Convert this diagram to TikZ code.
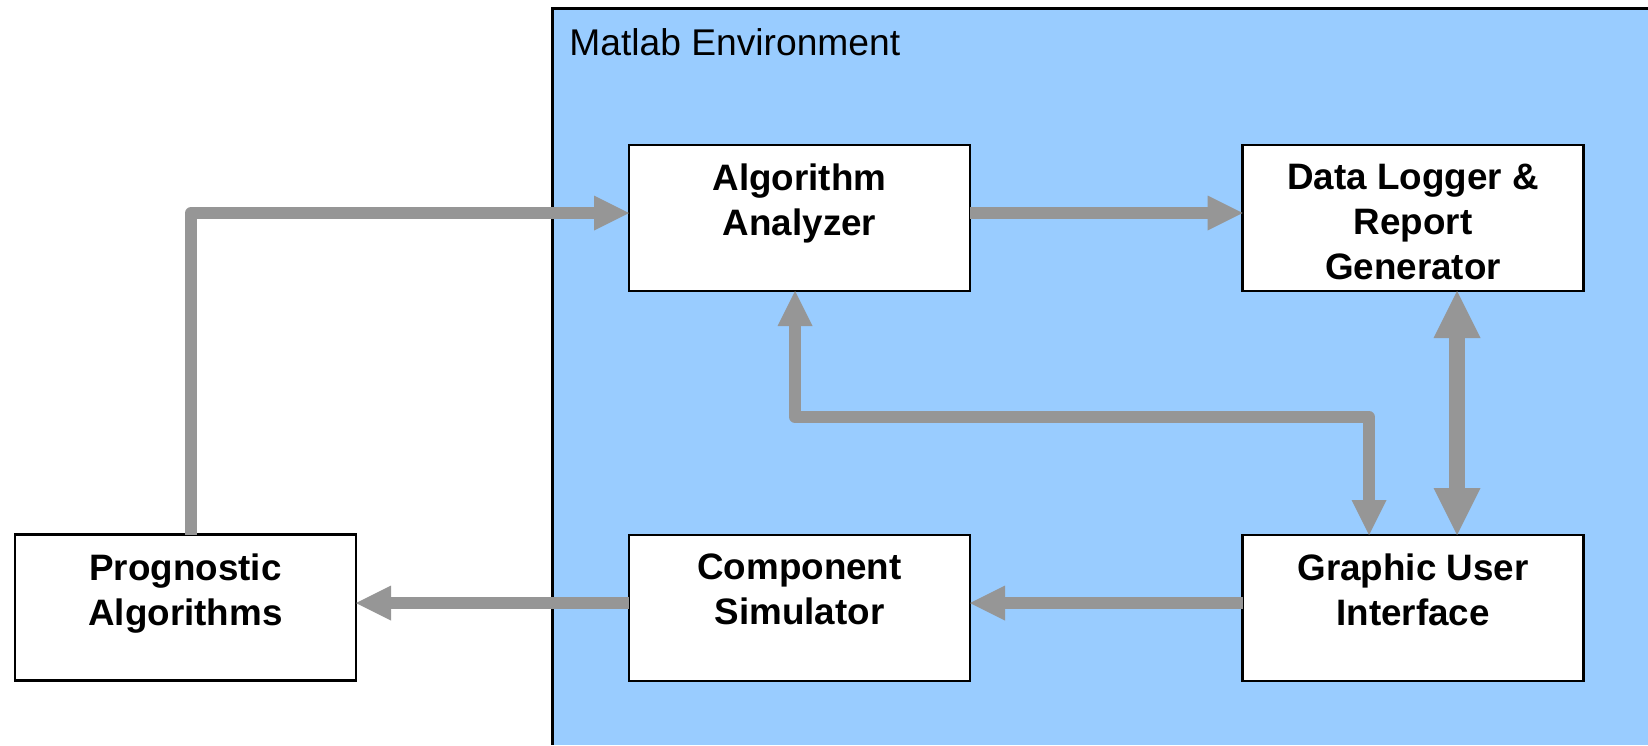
\documentclass[tikz,border=0pt]{standalone}
\usepackage{fontspec}
\setmainfont{Liberation Sans}
\usetikzlibrary{arrows.meta}
\definecolor{envblue}{RGB}{153,204,255}
\definecolor{flowgray}{RGB}{150,150,150}
\tikzset{
  flowtip/.tip={Triangle[length=17.5pt,width=17.5pt,line width=0pt]},
  bigtip/.tip={Triangle[length=23.5pt,width=23.5pt,line width=0pt]},
}
\begin{document}
\begin{tikzpicture}[x=0.5pt,y=-0.5pt,
  block/.style={draw=black, line width=1.3pt, fill=white,
    minimum width=170.5pt, minimum height=73pt, inner sep=0pt, outer sep=0pt},
  blocktext/.style={anchor=north, align=center, inner sep=0pt,
    font=\bfseries\fontsize{18.4pt}{22.6pt}\selectfont},
  flow/.style={draw=flowgray, line width=6pt, line join=round},
]
\useasboundingbox (0,0) rectangle (1648,745);

% Matlab environment region
\fill[envblue] (552,8) rectangle (1648,745);
\draw[line width=1.5pt] (1648,8) -- (552,8) -- (552,745);
\node[anchor=base west, inner sep=0pt, font=\fontsize{18.6pt}{22pt}\selectfont]
  (envlabel) at (569,55) {Matlab Environment};

% blocks
\node[block] (aa)   at (799.5,218) {};
\node[block] (dl)   at (1413,218)  {};
\node[block] (prog) at (185.5,607.5) {};
\node[block] (cs)   at (799.5,608) {};
\node[block] (gui)  at (1413,608)  {};

\node[blocktext] (aat)   at ([yshift=-9.25pt]aa.north)   {Algorithm\\Analyzer};
\node[blocktext] (dlt)   at ([yshift=-9.25pt]dl.north)   {Data Logger \&\\Report\\Generator};
\node[blocktext] (progt) at ([yshift=-9.5pt]prog.north)  {Prognostic\\Algorithms};
\node[blocktext] (cst)   at ([yshift=-9.25pt]cs.north)   {Component\\Simulator};
\node[blocktext] (guit)  at ([yshift=-9.25pt]gui.north)  {Graphic User\\Interface};

% routing points
\coordinate (pa) at (191,213);
\coordinate (l1) at (795,417);
\coordinate (l2) at (1369,417);
\coordinate (dg) at (1457,417);
\coordinate (bl) at (1100,603);

% connectors
\draw[flow, -flowtip] (prog.north -| pa) -- (pa) -- (aa.west |- pa);
\draw[flow, -flowtip] (aa.east |- pa) -- (dl.west |- pa);
\draw[flow, flowtip-flowtip] (aa.south -| l1) -- (l1) -- (l2) -- (gui.north -| l2);
\draw[flow, line width=8pt, bigtip-bigtip] (dl.south -| dg) -- (gui.north -| dg);
\draw[flow, -flowtip] (gui.west |- bl) -- (cs.east |- bl);
\draw[flow, -flowtip] (cs.west |- bl) -- (prog.east |- bl);
\end{tikzpicture}
\end{document}
